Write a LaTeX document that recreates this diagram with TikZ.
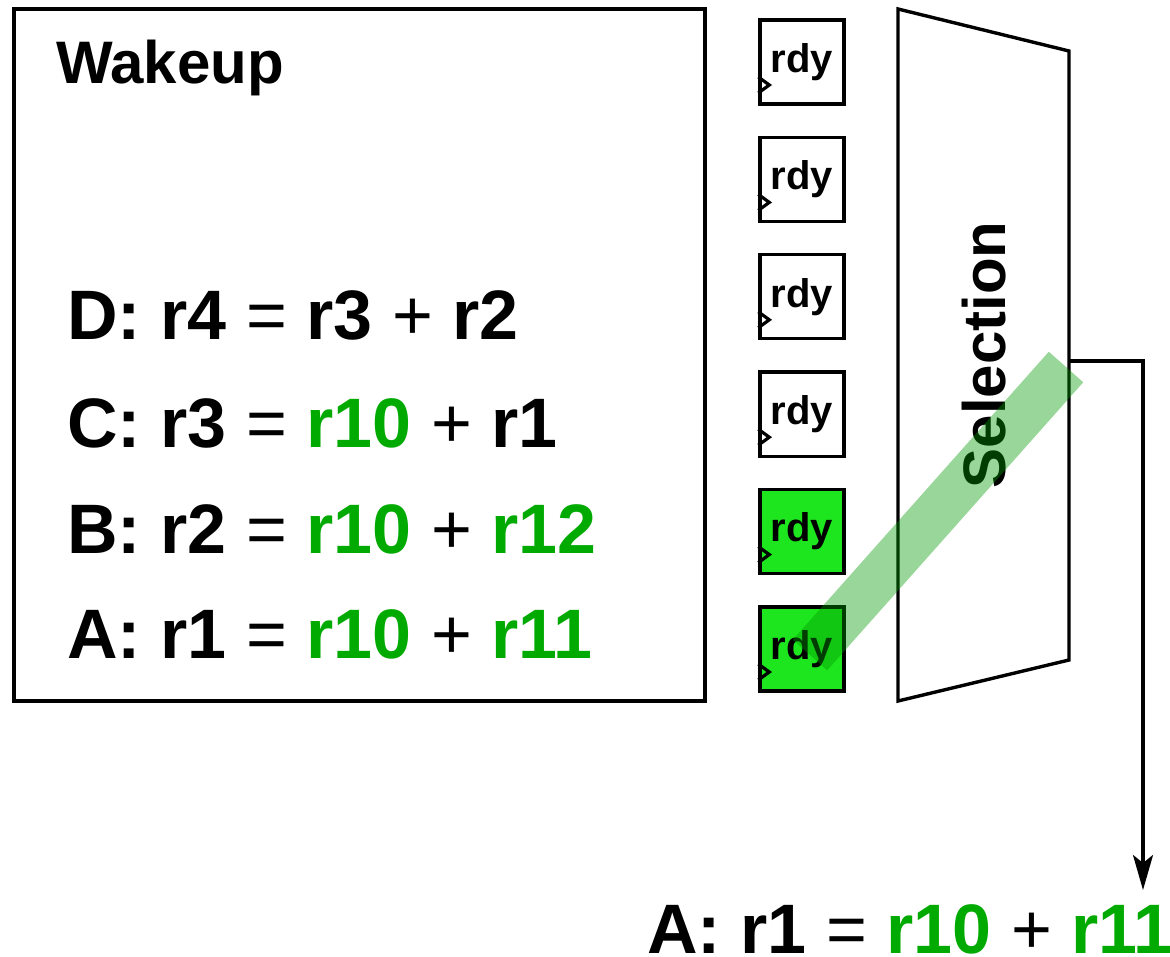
\documentclass[tikz,border=0pt]{standalone}
\usepackage{fontspec}
\setmainfont{Liberation Sans}
\usetikzlibrary{arrows.meta}
\definecolor{txtgreen}{RGB}{0,170,0}
\definecolor{boxgreen}{RGB}{30,230,30}
\definecolor{bandgreen}{RGB}{0,153,0}
\begin{document}
\begin{tikzpicture}[x=1pt,y=-1pt,
  stroke/.style={draw=black,line width=3.4pt},
  rdybox/.style={stroke,minimum width=84pt,minimum height=84pt,inner sep=0pt,
    font=\fontsize{40pt}{44pt}\selectfont\bfseries},
  greenbox/.style={rdybox,fill=boxgreen},
  instr/.style={anchor=base west,inner sep=0pt,font=\fontsize{70pt}{84pt}\selectfont},
  clk/.style={draw=black,line width=3.2pt}
]
\useasboundingbox (0,0) rectangle (1170,957);
% wakeup box
\draw[stroke] (14,9) rectangle (705,701);
\node[anchor=base west,inner sep=0pt,font=\fontsize{60pt}{68pt}\selectfont\bfseries] (wake) at (56,84) {Wakeup};
\node[instr] (lD) at (67,340) {\textbf{D: r4} = \textbf{r3} + \textbf{r2}};
\node[instr] (lC) at (67,447) {\textbf{C: r3} = \textbf{\color{txtgreen}r10} + \textbf{r1}};
\node[instr] (lB) at (67,553) {\textbf{B: r2} = \textbf{\color{txtgreen}r10} + \textbf{\color{txtgreen}r12}};
\node[instr] (lA) at (67,658) {\textbf{A: r1} = \textbf{\color{txtgreen}r10} + \textbf{\color{txtgreen}r11}};
% ready boxes
\node[rdybox] (b1) at (802,62) {rdy};
\node[rdybox] (b2) at (802,179.4) {rdy};
\node[rdybox] (b3) at (802,296.8) {rdy};
\node[rdybox] (b4) at (802,414.2) {rdy};
\node[greenbox] (b5) at (802,531.6) {rdy};
\node[greenbox] (b6) at (802,649) {rdy};
\foreach \b in {b1,b2,b3,b4,b5,b6}{
  \draw[clk] ([yshift=-15pt]\b.west) -- ++(11,8) -- ++(-11,8);
}
% selection
\draw[stroke,line join=miter] (898,9) -- (1069,51) -- (1069,660) -- (898,701) -- cycle;
\node[rotate=90,anchor=base,inner sep=0pt,font=\fontsize{60pt}{70pt}\selectfont\bfseries] (sel) at (1005,355) {Selection};
% band
\draw[line width=46pt,draw=bandgreen,opacity=0.4] (810,655) -- (1066,367);
% output arrow
\coordinate (selout) at (1069,361);
\coordinate (arrend) at (1143,890);
\draw[line width=3.2pt,-{Stealth[length=35pt,width=20pt,inset=8pt]}] (selout) -| (arrend);
\node[instr] (out) at (647,953) {\textbf{A: r1} = \textbf{\color{txtgreen}r10} + \textbf{\color{txtgreen}r11}};
\end{tikzpicture}
\end{document}
